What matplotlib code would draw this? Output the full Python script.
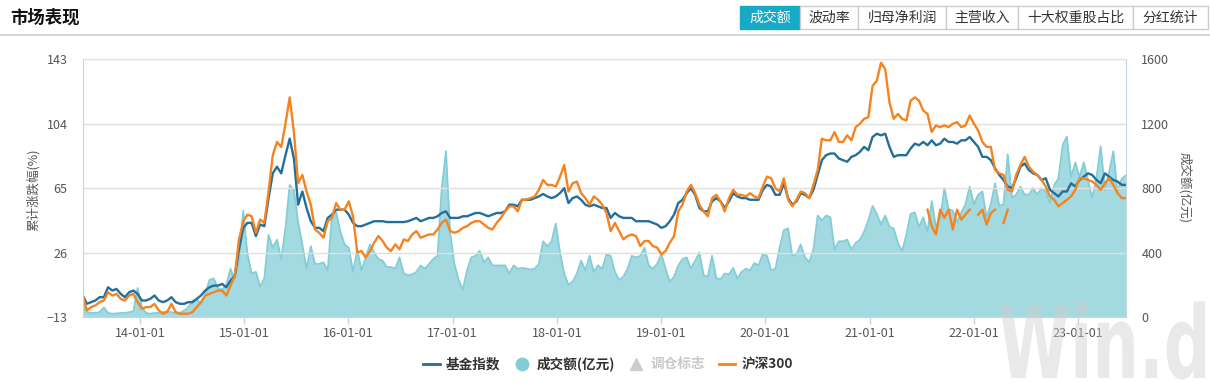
import numpy as np
import pandas as pd
import matplotlib
matplotlib.use('Agg')
import matplotlib.pyplot as plt
import matplotlib.dates as mdates
from matplotlib.lines import Line2D
from matplotlib.patches import Rectangle, PathPatch
from matplotlib.textpath import TextPath
from matplotlib.font_manager import FontProperties
from matplotlib.transforms import Affine2D

plt.rcParams['font.family'] = ['Noto Sans CJK SC', 'DejaVu Sans']

# --- values, roughly every two weeks, 2013-06 .. 2023-06 ---
fund_index = [
    0, -5, -4, -3, -1, -1, 5, 3, 4, 1, -1, 2, 3, 1, -3, -3, -2, 0, -3, -4,
    -3, -1, -4, -5, -5, -4, -4, -2, 0, 3, 5, 6, 6, 7, 5, 9, 12, 28, 41, 44,
    44, 36, 43, 42, 59, 74, 78, 74, 85, 95,
    83, 55, 63, 53, 45, 41, 41, 39, 47, 49, 52, 52, 52, 49, 44, 42, 42, 43, 44, 45,
    45, 45, 44.5, 44.5, 44.5, 44.5, 44.5, 45, 46, 47, 45, 46, 47, 47, 48, 50, 51, 47, 47, 47,
    48, 48, 49, 50, 50, 49, 48, 49, 50,
    50, 51, 55, 55, 54, 58, 58, 58, 59, 60, 61.5, 60, 59, 60, 62, 65, 56, 59, 60, 58,
    55, 54, 55, 54, 53, 53, 47, 50, 48, 47, 47, 47, 45, 45, 45, 45, 44, 43, 41, 42,
    45, 49, 56, 58, 62, 65, 61, 53, 51,
    51, 57, 59, 57, 53, 57, 62, 60, 59, 59, 58, 58, 58, 64, 67, 66, 61, 61, 68, 59,
    55, 57, 62, 61, 59, 64, 73, 82, 85, 86, 86, 83, 82, 81, 84, 85, 87, 90, 88, 96,
    98, 97, 98, 90, 84, 85, 85, 85, 89,
    92, 91, 93, 91, 94, 91, 92, 95, 93, 93, 92, 94, 94, 96, 93, 90, 84, 84, 82, 77,
    73, 70, 66, 65, 71, 78, 80, 76, 74, 73, 70, 71, 64, 62, 60, 63, 63, 68, 66, 70,
    72, 74, 73, 70, 68, 74, 72, 70, 69, 67, 67,
]
hs300 = [
    0, -9, -7, -6, -4, -3, 2, 0, 1, -2, -3, 0, 1, -4, -8, -7, -7, -5, -9, -11,
    -10, -5, -10, -11, -11, -11, -10, -7, -4, 0, 1, 2, 3, 3, 0, 6, 12, 34, 45, 49,
    48, 38, 46, 44, 63, 85, 93, 90, 104, 120,
    99, 68, 73, 63, 55, 40, 38, 35, 45, 47, 56, 52, 52, 57, 48, 26, 27, 23, 27, 32,
    36, 33, 29, 27, 31, 28, 34, 33, 37, 39, 35, 36, 37, 37, 40, 44, 46, 39, 38, 39,
    41, 42, 44, 45, 45, 43, 41, 40, 44,
    47, 51, 54, 54, 51, 58, 58, 59, 60, 64, 70, 67, 67, 66, 72, 79, 63, 68, 69, 62,
    59, 55, 60, 58, 55, 50, 39, 44, 39, 34, 36, 37, 36, 30, 33, 33, 30, 29, 25, 27,
    32, 36, 51, 55, 63, 67, 62, 55, 51,
    48, 59, 61, 57, 51, 59, 64, 61, 61, 60, 62, 60, 59, 66, 72, 71, 65, 63, 71, 58,
    54, 58, 63, 62, 59, 67, 76, 95, 94, 94, 99, 93, 93, 97, 94, 102, 104, 107, 108, 127,
    130, 141, 137, 117, 107, 110, 107, 106, 118,
    120, 118, 112, 110, 99, 103, 102, 103, 102, 104, 105, 102, 103, 109, 104, 100, 93, 90, 90, 76,
    74, 73, 64, 63, 73, 79, 84, 78, 75, 73, 70, 66, 60, 58, 54, 56, 58, 60, 64, 71,
    71, 70, 69, 67, 64, 68, 71, 67, 62, 59, 59,
]
turnover = [
    80, 30, 25, 25, 30, 60, 25, 20, 22, 25, 25, 30, 35, 180, 60, 25, 20, 25, 25, 30,
    35, 30, 25, 25, 40, 60, 100, 110, 80, 140, 230, 240, 180, 170, 200, 300, 230, 340, 660, 390,
    270, 280, 190, 240, 510, 430, 480, 360, 550, 820,
    790, 590, 450, 300, 440, 330, 330, 340, 290, 620, 650, 530, 450, 430, 280, 420, 290, 370, 450, 400,
    360, 350, 310, 310, 300, 370, 270, 260, 265, 280, 320, 300, 330, 360, 380, 800, 1030, 520, 330, 230,
    170, 290, 370, 380, 410, 340, 370, 320, 320,
    320, 320, 270, 320, 300, 305, 300, 295, 300, 330, 470, 440, 470, 580, 400, 270, 200, 220, 270, 350,
    290, 380, 280, 320, 300, 390, 380, 280, 230, 250, 300, 380, 370, 380, 430, 320, 300, 330, 390, 300,
    220, 250, 320, 360, 370, 300, 350, 400, 260,
    250, 380, 240, 235, 270, 265, 305, 240, 280, 300, 290, 335, 320, 390, 380, 290, 300, 430, 540, 550,
    380, 390, 450, 370, 340, 420, 630, 600, 630, 620, 420, 470, 470, 480, 420, 460, 480, 530, 600, 690,
    640, 575, 630, 560, 550, 460, 410, 510, 640,
    650, 560, 620, 530, 720, 560, 610, 800, 670, 660, 590, 650, 700, 810, 700, 760, 780, 620, 700, 830,
    690, 700, 1010, 740, 760, 810, 760, 760, 800, 760, 800, 780, 710, 820, 860, 1070, 1120, 870, 960, 870,
    960, 850, 740, 860, 1060, 790, 900, 1030, 780, 860, 880,
]
# 2021-22: a stray piece of the 沪深300 line that only shows below ~52
hs300_gap = [52, 42, 37, 52, 47, 52, 40, 52, 46, 49, 52, np.nan, 49, 52, 43, 50, 52, np.nan, 44, 52]
gap_start = 200

tabs = ['成交额', '波动率', '归母净利润', '主营收入', '十大权重股占比', '分红统计']
left_ticks = [-13, 26, 65, 104, 143]
right_ticks = [0, 400, 800, 1200, 1600]

dates = pd.date_range('2013-06-14', '2023-06-19', periods=len(fund_index))

W, H = 1210, 383
fig = plt.figure(figsize=(W / 100, H / 100), dpi=100)


def fx(px):
    return px / W


def fy(py):
    return 1 - py / H


ax = fig.add_axes([fx(83), fy(317), fx(1126) - fx(83), fy(59.4) - fy(317)])
ax2 = ax.twinx()
ax.set_zorder(ax2.get_zorder() + 1)
ax.patch.set_visible(False)

# volume band on the right axis
ax2.fill_between(dates, turnover, 0, color='#A3D9E1', lw=0)
ax2.plot(dates, turnover, color='#82CDD6', lw=1.3)
ax2.set_ylim(0, 1600)
ax2.set_yticks(right_ticks)

# index lines on the left axis
ax.plot(dates, fund_index, color='#236F9A', lw=1.7)
ax.plot(dates, hs300, color='#F5831F', lw=1.7)
ax.plot(dates[gap_start:gap_start + len(hs300_gap)], hs300_gap, color='#F5831F', lw=1.7)
ax.set_ylim(-13, 143)
ax.set_yticks(left_ticks)
ax.set_xlim(pd.Timestamp('2013-06-15'), pd.Timestamp('2023-06-19'))
ax.xaxis.set_major_locator(mdates.YearLocator())
ax.xaxis.set_major_formatter(mdates.DateFormatter('%y-%m-%d'))

ax.yaxis.grid(True, color='#e0e0e0', lw=1)
for s in ax2.spines.values():
    s.set_visible(False)
for name in ['left', 'right', 'bottom']:
    ax.spines[name].set_color('#c6d4e2')
ax.spines['top'].set_color('#e0e0e0')

ax.tick_params(axis='y', length=0, pad=11, labelsize=9, labelcolor='#555555')
ax.tick_params(axis='x', length=5, width=1, color='#c6d4e2', pad=2, labelsize=9, labelcolor='#555555')
ax2.tick_params(axis='y', length=0, pad=11, labelsize=9, labelcolor='#555555')

fig.text(fx(33), fy(190), '累计涨跌幅(%)', rotation=90, ha='center', va='center', fontsize=9, color='#555555')
fig.text(fx(1185), fy(188), '成交额(亿元)', rotation=270, ha='center', va='center', fontsize=9, color='#555555')

# header
fig.text(fx(10), fy(18), '市场表现', fontsize=12.5, weight='bold', color='#111111', va='center')
fig.add_artist(Line2D([0, 1], [fy(35), fy(35)], transform=fig.transFigure, color='#d0d0d0', lw=1.2))

tab_edges = [740, 800, 858, 946, 1018, 1133, 1208]
for i, name in enumerate(tabs):
    x0, x1 = tab_edges[i], tab_edges[i + 1]
    active = i == 0
    fig.add_artist(Rectangle((fx(x0), fy(29)), fx(x1) - fx(x0), fy(6) - fy(29),
                             transform=fig.transFigure,
                             facecolor='#17A9C6' if active else 'white',
                             edgecolor='#17A9C6' if active else '#cccccc', lw=1))
    fig.text(fx((x0 + x1) / 2), fy(18), name, ha='center', va='center', fontsize=10,
             color='white' if active else '#333333')

# legend
handles = [
    Line2D([], [], color='#236F9A', lw=2),
    Line2D([], [], ls='none', marker='o', ms=9, color='#82CDD6'),
    Line2D([], [], ls='none', marker='^', ms=8, color='#cccccc'),
    Line2D([], [], color='#F5831F', lw=2),
]
labels = ['基金指数', '成交额(亿元)', '调仓标志', '沪深300']
leg = fig.legend(handles, labels, loc='center', bbox_to_anchor=(fx(608), fy(364)), ncol=4,
                 frameon=False, handlelength=1.2, handletextpad=0.45,
                 columnspacing=1.0, prop={'weight': 'bold', 'size': 9.8})
for t, c in zip(leg.get_texts(), ['#333333', '#333333', '#c8c8c8', '#333333']):
    t.set_color(c)

# watermark, squeezed to the narrow shape of the original
wm = TextPath((0, 0), 'Win.d', size=100, prop=FontProperties(family='DejaVu Sans', weight='bold'))
ext = wm.get_extents()
sx, sy = 205 / ext.width, 78 / ext.height
wm_tf = Affine2D().translate(-ext.x0, 0).scale(sx, sy).translate(1000, H - 378)
fig.add_artist(PathPatch(wm, transform=wm_tf, facecolor='#cfcfcf', edgecolor='none',
                         alpha=0.45, zorder=10))

fig.savefig('out.png', dpi=100)
